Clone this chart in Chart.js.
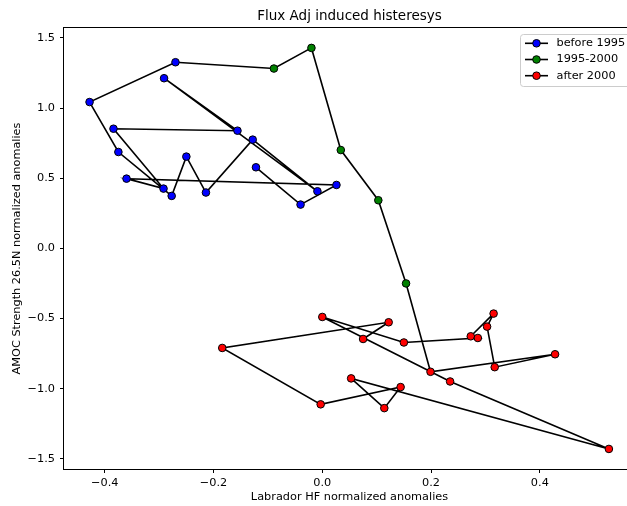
<!DOCTYPE html>
<html>
<head>
<meta charset="utf-8">
<title>Flux Adj induced histeresys</title>
<script src="https://cdn.jsdelivr.net/npm/chart.js@4.4.1/dist/chart.umd.min.js"></script>
<style>
  html, body { margin: 0; padding: 0; background: #fff; overflow: hidden; }
  #wrap { width: 640px; height: 506px; }
</style>
</head>
<body>
<div id="wrap"><canvas id="chart" width="640" height="506"></canvas></div>
<script>
// yearly points, connected in time order: before 1995 -> 1995-2000 -> after 2000
const beforeX = [-0.122, -0.040, 0.026, -0.360, -0.292, -0.384, -0.156, -0.291, -0.009, -0.128, -0.214, -0.250, -0.277, -0.375, -0.428, -0.270];
const beforeY = [0.578, 0.312, 0.452, 0.497, 0.426, 0.853, 0.839, 1.213, 0.407, 0.775, 0.398, 0.654, 0.374, 0.687, 1.043, 1.327];

const midX = [-0.089, -0.020, 0.034, 0.103, 0.154];
const midY = [1.282, 1.429, 0.701, 0.343, -0.250];

const afterX = [0.199, 0.428, 0.317, 0.303, 0.315, 0.273, 0.286, 0.150, 0.000, 0.235, 0.527, 0.053, 0.114, 0.144, -0.003, -0.184, 0.122, 0.075];
const afterY = [-0.880, -0.755, -0.847, -0.558, -0.465, -0.627, -0.639, -0.671, -0.489, -0.949, -1.430, -0.927, -1.139, -0.989, -1.112, -0.710, -0.527, -0.646];

const seriesNames = ['before 1995', '1995-2000', 'after 2000'];
const seriesColors = ['#0000ff', '#008000', '#ff0000'];

const xTicks = [-0.4, -0.2, 0.0, 0.2, 0.4];
const yTicks = [-1.5, -1.0, -0.5, 0.0, 0.5, 1.0, 1.5];

const FONT = '"DejaVu Sans", sans-serif';

function pts(xs, ys) { return xs.map((x, i) => ({ x: x, y: ys[i] })); }
function fmt(v) { return (v < 0 ? '\u2212' : '') + Math.abs(v).toFixed(1); }

const groups = [pts(beforeX, beforeY), pts(midX, midY), pts(afterX, afterY)];
const path = [].concat(...groups);

// frame, title and legend drawn on top
const decor = {
  id: 'decor',
  afterDraw(chart) {
    const { ctx, chartArea: a } = chart;
    ctx.save();
    ctx.strokeStyle = '#000';
    ctx.lineWidth = 1;
    ctx.strokeRect(a.left - 0.5, a.top - 0.5, a.right - a.left + 1, a.bottom - a.top + 1);

    ctx.fillStyle = '#000';
    ctx.font = '13.5px ' + FONT;
    ctx.textAlign = 'center';
    ctx.textBaseline = 'middle';
    ctx.fillText('Flux Adj induced histeresys', (a.left + a.right) / 2, 16);

    // legend box
    const bx = 520.5, by = 34.5, bw = 110, bh = 52;
    ctx.beginPath();
    ctx.roundRect(bx, by, bw, bh, 3);
    ctx.fillStyle = 'rgba(255,255,255,0.8)';
    ctx.fill();
    ctx.strokeStyle = '#cccccc';
    ctx.stroke();

    ctx.font = '11.3px ' + FONT;
    ctx.textAlign = 'left';
    seriesNames.forEach((name, i) => {
      const y = 43.3 + i * 16.2;
      ctx.beginPath();
      ctx.moveTo(525, y);
      ctx.lineTo(548, y);
      ctx.strokeStyle = '#000';
      ctx.lineWidth = 1.6;
      ctx.stroke();
      ctx.beginPath();
      ctx.arc(536.5, y, 3.8, 0, Math.PI * 2);
      ctx.fillStyle = seriesColors[i];
      ctx.fill();
      ctx.lineWidth = 1;
      ctx.stroke();
      ctx.fillStyle = '#000';
      ctx.fillText(name, 556.5, y);
    });
    ctx.restore();
  }
};

const datasets = [{
  label: 'path',
  data: path,
  showLine: true,
  borderColor: '#000',
  borderWidth: 1.6,
  pointRadius: 0,
  order: 2
}];
groups.forEach((g, i) => datasets.push({
  label: seriesNames[i],
  data: g,
  showLine: false,
  pointRadius: 3.8,
  pointBackgroundColor: seriesColors[i],
  pointBorderColor: '#000',
  pointBorderWidth: 1,
  order: 1
}));

new Chart(document.getElementById('chart').getContext('2d'), {
  type: 'scatter',
  data: { datasets: datasets },
  options: {
    responsive: false,
    animation: false,
    layout: { padding: { left: 0, right: 4, top: 28, bottom: 0 } },
    plugins: { legend: { display: false }, tooltip: { enabled: false } },
    scales: {
      x: {
        type: 'linear',
        min: -0.475,
        max: 0.575,
        afterBuildTicks: s => { s.ticks = xTicks.map(v => ({ value: v })); },
        afterFit: s => { s.height = 37; },
        ticks: { callback: v => fmt(v), color: '#000', padding: 3, font: { family: FONT, size: 11.3 } },
        grid: { drawOnChartArea: false, drawTicks: true, tickLength: 4, tickColor: '#000' },
        border: { display: false },
        title: { display: true, text: 'Labrador HF normalized anomalies', color: '#000', font: { family: FONT, size: 11.3 }, padding: { top: 0, bottom: 2 } }
      },
      y: {
        type: 'linear',
        min: -1.573,
        max: 1.571,
        afterBuildTicks: s => { s.ticks = yTicks.map(v => ({ value: v })); },
        afterFit: s => { s.width = 64; },
        ticks: { callback: v => fmt(v), color: '#000', padding: 5, font: { family: FONT, size: 11.3 } },
        grid: { drawOnChartArea: false, drawTicks: true, tickLength: 4, tickColor: '#000' },
        border: { display: false },
        title: { display: true, text: 'AMOC Strength 26.5N normalized anomalies', color: '#000', font: { family: FONT, size: 11.3 }, padding: { top: 10.7, bottom: 0 } }
      }
    }
  },
  plugins: [decor]
});
</script>
</body>
</html>
